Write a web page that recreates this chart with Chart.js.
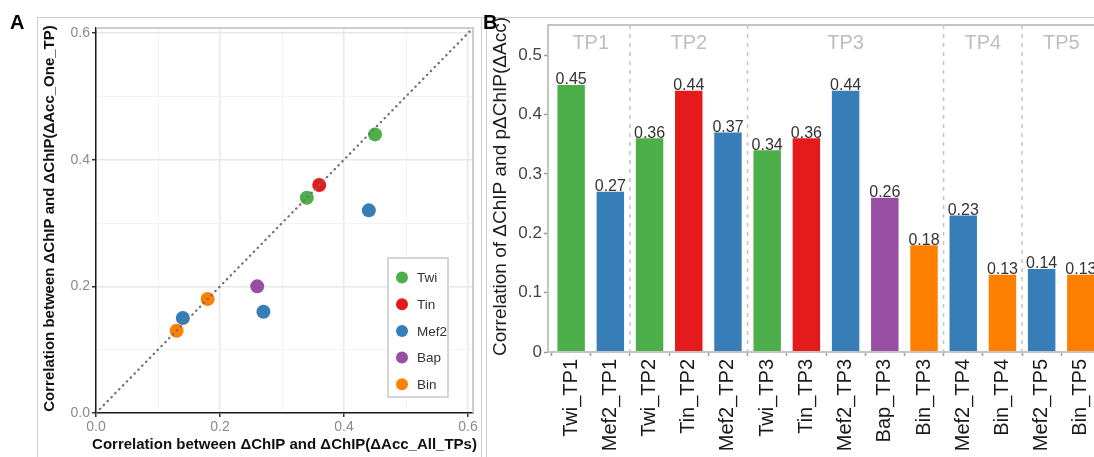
<!DOCTYPE html>
<html>
<head>
<meta charset="utf-8">
<script src="https://cdn.jsdelivr.net/npm/chart.js@4.4.1/dist/chart.umd.min.js"></script>
<style>
  html, body { margin: 0; padding: 0; background: #fff; overflow: hidden; }
  body { width: 1094px; height: 457px; position: relative; font-family: "Liberation Sans", Arial, sans-serif; }
  canvas { position: absolute; top: 0; }
  #chartA { left: 0; }
  #chartB { left: 480px; }
  .rule { position: absolute; background: #cfcfcf; }
  .tag { position: absolute; font-weight: bold; font-size: 20px; line-height: 20px; color: #000; }
</style>
</head>
<body>
<div class="rule" style="left:37px; top:17px; width:1057px; height:1px;"></div>
<div class="rule" style="left:37px; top:17px; width:1px; height:440px;"></div>
<div class="rule" style="left:481px; top:17px; width:1px; height:440px;"></div>
<div class="rule" style="left:486px; top:17px; width:1px; height:440px;"></div>
<canvas id="chartA" width="480" height="457"></canvas>
<canvas id="chartB" width="640" height="457"></canvas>
<div class="tag" style="left:10px; top:12px;">A</div>
<div class="tag" style="left:483px; top:12px;">B</div>
<script>
// factors and their colours
const factors = ['Twi', 'Tin', 'Mef2', 'Bap', 'Bin'];
const factorColors = ['#4daf4a', '#e41a1c', '#377eb8', '#984ea3', '#ff7f00'];

// panel A: one point per factor/timepoint pair
const pointFactor = ['Twi', 'Twi', 'Tin', 'Mef2', 'Mef2', 'Mef2', 'Bap', 'Bin', 'Bin'];
const corrAllTPs  = [0.45, 0.34, 0.36, 0.44, 0.27, 0.14, 0.26, 0.18, 0.13];
const corrOneTP   = [0.44, 0.34, 0.36, 0.32, 0.16, 0.15, 0.20, 0.18, 0.13];
const axisLimitA = 0.608;

// panel B: bars
const barLabels = ['Twi_TP1', 'Mef2_TP1', 'Twi_TP2', 'Tin_TP2', 'Mef2_TP2', 'Twi_TP3', 'Tin_TP3',
  'Mef2_TP3', 'Bap_TP3', 'Bin_TP3', 'Mef2_TP4', 'Bin_TP4', 'Mef2_TP5', 'Bin_TP5'];
const barValues = [0.45, 0.27, 0.36, 0.44, 0.37, 0.34, 0.36, 0.44, 0.26, 0.18, 0.23, 0.13, 0.14, 0.13];
const timepoints = ['TP1', 'TP2', 'TP3', 'TP4', 'TP5'];
const axisLimitB = 0.551;

const FONT = '"Liberation Sans", Arial, sans-serif';
const colorOf = f => factorColors[factors.indexOf(f)];
const isMajor = v => Math.round(v * 10) % 2 === 0;

// ---------- panel A ----------
const frameA = {
  id: 'frameA',
  beforeDatasetsDraw(chart) {
    const { ctx, chartArea: a } = chart;
    ctx.save();
    ctx.strokeStyle = '#bdbdbd';
    ctx.lineWidth = 1.5;
    ctx.beginPath();
    ctx.moveTo(a.left, a.top);
    ctx.lineTo(a.right, a.top);
    ctx.lineTo(a.right, a.bottom);
    ctx.stroke();
    ctx.restore();
  },
  afterDraw(chart) {
    const { ctx, chartArea: a } = chart;
    ctx.save();
    ctx.fillStyle = '#111';
    ctx.font = 'bold 15px ' + FONT;
    ctx.textAlign = 'center';
    ctx.textBaseline = 'middle';
    ctx.fillText('Correlation between ΔChIP and ΔChIP(ΔAcc_All_TPs)', (a.left + a.right) / 2, 445);
    ctx.translate(50, (a.top + a.bottom) / 2 - 2);
    ctx.rotate(-Math.PI / 2);
    ctx.fillText('Correlation between ΔChIP and ΔChIP(ΔAcc_One_TP)', 0, 0);
    ctx.restore();

    // legend box inside the panel
    ctx.save();
    ctx.fillStyle = '#fff';
    ctx.strokeStyle = '#c8c8c8';
    ctx.lineWidth = 1.5;
    ctx.fillRect(388, 258, 60, 139);
    ctx.strokeRect(388, 258, 60, 139);
    ctx.font = '13.5px ' + FONT;
    ctx.textBaseline = 'middle';
    ctx.textAlign = 'left';
    factors.forEach((f, i) => {
      const y = 277.5 + i * 26.7;
      ctx.fillStyle = factorColors[i];
      ctx.beginPath();
      ctx.arc(402, y, 6, 0, Math.PI * 2);
      ctx.fill();
      ctx.fillStyle = '#333';
      ctx.fillText(f, 417, y + 1);
    });
    ctx.restore();
  }
};

const scatterSets = factors.map((f, k) => ({
  label: f,
  data: corrAllTPs.map((x, i) => ({ x, y: corrOneTP[i], f: pointFactor[i] })).filter(p => p.f === f),
  backgroundColor: factorColors[k],
  pointRadius: 7,
  pointBorderWidth: 0,
  order: 1
}));

const axisA = (extra) => Object.assign({
  type: 'linear',
  min: 0,
  max: axisLimitA,
  ticks: {
    stepSize: 0.1,
    includeBounds: false,
    autoSkip: false,
    maxRotation: 0,
    padding: 2,
    color: '#8a8a8a',
    font: { family: FONT, size: 14 },
    callback: v => isMajor(v) ? v.toFixed(1) : ''
  },
  grid: {
    color: c => isMajor(c.tick.value) ? '#e8e8e8' : '#f3f3f3',
    lineWidth: c => isMajor(c.tick.value) ? 1.5 : 1,
    tickColor: c => isMajor(c.tick.value) ? '#333' : 'rgba(0,0,0,0)',
    tickLength: 4,
    tickWidth: 1.5
  },
  border: { display: true, color: '#1a1a1a', width: 1.5 }
}, extra);

new Chart(document.getElementById('chartA'), {
  type: 'scatter',
  data: {
    datasets: [{
      type: 'line',
      data: [{ x: 0, y: 0 }, { x: axisLimitA, y: axisLimitA }],
      borderColor: '#707070',
      borderWidth: 2.2,
      borderDash: [0.5, 5],
      borderCapStyle: 'round',
      pointRadius: 0,
      fill: false,
      order: 0
    }, ...scatterSets]
  },
  options: {
    responsive: false,
    animation: false,
    layout: { padding: { top: 28, right: 7, left: 0, bottom: 0 } },
    plugins: { legend: { display: false }, tooltip: { enabled: false } },
    scales: {
      x: axisA({ afterFit: s => { s.height = 44; } }),
      y: axisA({ afterFit: s => { s.width = 96; } })
    }
  },
  plugins: [frameA]
});

// ---------- panel B ----------
const tpIndex = timepoints.map(tp => barLabels.map((l, i) => l.endsWith(tp) ? i : -1).filter(i => i >= 0));

const frameB = {
  id: 'frameB',
  beforeDatasetsDraw(chart) {
    const { ctx, chartArea: a, scales: { x } } = chart;
    ctx.save();
    // dashed separators between timepoints
    ctx.strokeStyle = '#c4c4c4';
    ctx.lineWidth = 1.5;
    ctx.setLineDash([4, 5]);
    tpIndex.slice(0, -1).forEach(idx => {
      const px = x.getPixelForValue(idx[idx.length - 1] + 0.5);
      ctx.beginPath();
      ctx.moveTo(px, a.top);
      ctx.lineTo(px, a.bottom);
      ctx.stroke();
    });
    ctx.setLineDash([]);
    // timepoint headers
    ctx.fillStyle = '#bdbdbd';
    ctx.font = '20px ' + FONT;
    ctx.textAlign = 'center';
    ctx.textBaseline = 'middle';
    tpIndex.forEach((idx, k) => {
      const px = (x.getPixelForValue(idx[0]) + x.getPixelForValue(idx[idx.length - 1])) / 2;
      ctx.fillText(timepoints[k], px, a.top + 18);
    });
    ctx.restore();
  },
  afterDatasetsDraw(chart) {
    const { ctx, chartArea: a } = chart;
    ctx.save();
    ctx.strokeStyle = '#c4c4c4';
    ctx.lineWidth = 2;
    ctx.strokeRect(a.left, a.top, a.right - a.left, a.bottom - a.top);
    // value labels on top of the bars
    ctx.fillStyle = '#333';
    ctx.font = '16px ' + FONT;
    ctx.textAlign = 'center';
    ctx.textBaseline = 'alphabetic';
    chart.getDatasetMeta(0).data.forEach((bar, i) => {
      ctx.fillText(barValues[i].toFixed(2), bar.x, bar.y - 0.5);
    });
    ctx.restore();
  },
  afterDraw(chart) {
    const { ctx, chartArea: a } = chart;
    ctx.save();
    ctx.fillStyle = '#1a1a1a';
    ctx.font = '19px ' + FONT;
    ctx.textAlign = 'center';
    ctx.textBaseline = 'middle';
    ctx.translate(21, (a.top + a.bottom) / 2 - 2);
    ctx.rotate(-Math.PI / 2);
    ctx.fillText('Correlation of ΔChIP and pΔChIP(ΔAcc)', 0, 0);
    ctx.restore();
  }
};

new Chart(document.getElementById('chartB'), {
  type: 'bar',
  data: {
    datasets: [{
      data: barValues.map((v, i) => ({ x: i, y: v })),
      backgroundColor: barLabels.map(l => colorOf(l.split('_')[0])),
      borderWidth: 0,
      categoryPercentage: 1,
      barPercentage: 0.7
    }]
  },
  options: {
    responsive: false,
    animation: false,
    layout: { padding: { top: 25, right: 16, left: 0, bottom: 0 } },
    plugins: { legend: { display: false }, tooltip: { enabled: false } },
    scales: {
      x: {
        type: 'linear',
        offset: false,
        min: -0.59,
        max: barLabels.length - 1 + 0.59,
        afterFit: s => { s.height = 105; },
        ticks: {
          stepSize: 1,
          includeBounds: false,
          autoSkip: false,
          minRotation: 90,
          maxRotation: 90,
          padding: 3,
          color: '#1a1a1a',
          font: { family: FONT, size: 20 },
          callback: v => barLabels[v] ?? ''
        },
        grid: { drawOnChartArea: false, tickLength: 4, tickColor: '#9a9a9a', tickWidth: 1.5 },
        border: { display: false }
      },
      y: {
        min: 0,
        max: axisLimitB,
        afterFit: s => { s.width = 68; },
        ticks: {
          stepSize: 0.1,
          includeBounds: false,
          padding: 2,
          color: '#444',
          font: { family: FONT, size: 17 },
          callback: v => v === 0 ? '0' : v.toFixed(1)
        },
        grid: { drawOnChartArea: false, tickLength: 4, tickColor: '#9a9a9a', tickWidth: 1.5 },
        border: { display: false }
      }
    }
  },
  plugins: [frameB]
});
</script>
</body>
</html>
